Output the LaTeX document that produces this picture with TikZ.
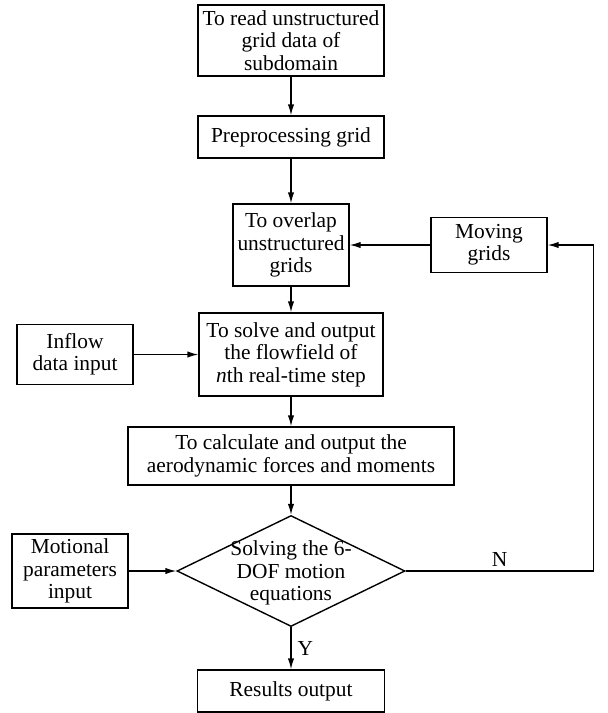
\documentclass[tikz,border=0pt]{standalone}
\usepackage{fontspec}
\setmainfont{Liberation Serif}
\usetikzlibrary{shapes.geometric, positioning, arrows.meta}

\begin{document}
\begin{tikzpicture}[>={Latex[length=5.5pt,width=3.2pt]}, line width=0.7pt,
    node distance=50pt, on grid, auto,
    font=\fontsize{10.7}{11.2}\selectfont,
    block/.style={draw, rectangle, align=center, inner xsep=1pt, inner ysep=0.3pt},
    decision/.style={draw, diamond, inner sep=0pt, minimum width=114pt, minimum height=55.5pt}]
  \useasboundingbox (0,0) rectangle (304pt,-356.5pt);
  % main column
  \node[block, minimum width=93pt, minimum height=35.5pt] (read) at (145.5pt,-20.25pt)
    {To read unstructured\\grid data of\\subdomain};
  \node[block, minimum width=93pt, minimum height=21pt] (pre) [below=48.25pt of read]
    {Preprocessing grid};
  \node[block, minimum width=58pt, minimum height=41pt] (over) [below=54pt of pre]
    {To overlap\\unstructured\\grids};
  \node[block, minimum width=92pt, minimum height=41.5pt] (solve) [below=54.75pt of over]
    {To solve and output\\the flowfield of\\\textit{n}th real-time step};
  \node[block, minimum width=163pt, minimum height=29pt] (aero) [below=50.75pt of solve]
    {To calculate and output the\\aerodynamic forces and moments};
  \node[decision] (dec) [below=57.5pt of aero]
    {\smash{\makebox[0pt]{\raisebox{-4pt}{\begin{tabular}{@{}c@{}}Solving the 6-\\DOF motion\\equations\end{tabular}}}}};
  \node[block, minimum width=93.5pt, minimum height=21pt] (res) [below=60pt of dec]
    {Results output};
  % side boxes
  \node[block, minimum width=58pt, minimum height=27.5pt] (move) [right=99pt of over]
    {Moving\\grids};
  \node[block, minimum width=58pt, minimum height=30pt] (inflow) [left=108pt of solve]
    {Inflow\\data input};
  \node[block, minimum width=58pt, minimum height=37pt] (motion) [left=110.5pt of dec]
    {Motional\\parameters\\input};
  \coordinate[right=94pt of dec.east] (turn);

  \draw[->] (read) -- (pre);
  \draw[->] (pre) -- (over);
  \draw[->] (over) -- (solve);
  \draw[->] (solve) -- (aero);
  \draw[->] (aero) -- (dec);
  \draw[->] (dec) -- node[right, inner sep=3pt] {Y} (res);
  \draw[->] (move) -- (over);
  \draw[->] (inflow) -- (solve);
  \draw[->] (motion) -- (dec);
  \draw[->] (dec.east) -- node[above, inner sep=2pt] {N} (turn) |- (move.east);
\end{tikzpicture}
\end{document}
